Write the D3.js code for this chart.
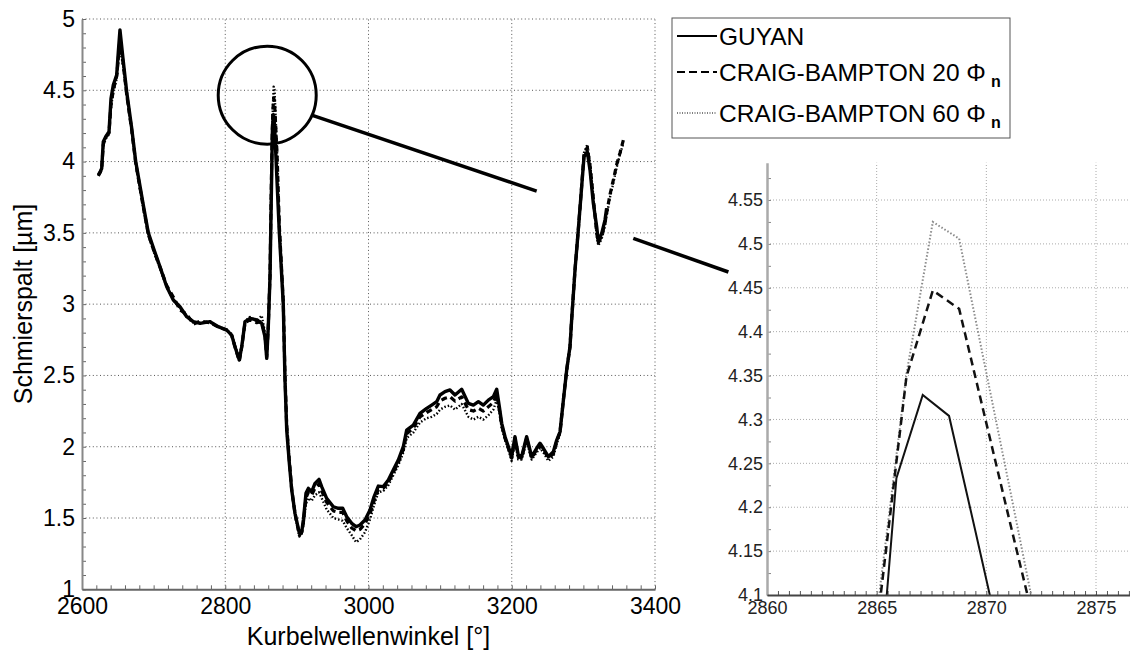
<!DOCTYPE html>
<html>
<head>
<meta charset="utf-8">
<script src="https://d3js.org/d3.v7.min.js"></script>
<style>
  body { margin: 0; background: #fff; }
</style>
</head>
<body>
<script>
// Kurbelwellenwinkel [°] / Schmierspalt [µm]
const angleGuyan = [2622.8, 2625.5, 2627.5, 2629.7, 2633.1, 2637.7, 2640.5, 2643.7, 2648.4, 2650.7, 2653.0, 2657.7, 2662.4, 2669.4, 2675.0, 2685.6, 2692.6, 2700.0, 2708.9, 2718.3, 2727.5, 2736.8, 2746.2, 2755.4, 2764.8, 2778.7, 2790.3, 2802.0, 2809.0, 2813.6, 2819.6, 2823.0, 2827.6, 2834.6, 2843.9, 2850.9, 2855.5, 2857.9, 2860.1, 2862.5,
  2864.7, 2865.9, 2867.1, 2868.3, 2869.5, 2870.7,
  2875.5, 2881.0, 2883.4, 2885.8, 2889.5, 2892.8, 2897.4, 2903.5, 2906.8, 2909.1, 2912.7, 2916.0, 2920.6, 2925.3, 2930.9, 2934.6, 2941.6, 2950.9, 2957.9, 2964.0, 2969.6, 2976.5, 2982.6, 2988.1, 2995.1, 3002.1, 3007.7, 3013.7, 3020.7, 3027.7, 3034.6, 3041.6, 3048.6, 3053.3, 3062.6, 3071.9, 3081.2, 3088.2, 3095.2, 3099.8, 3106.8, 3113.8, 3120.8, 3130.1, 3139.4, 3146.4, 3153.4, 3160.3, 3167.3, 3174.3, 3179.0, 3182.7, 3186.0, 3190.6, 3195.3, 3199.8, 3204.5, 3209.1, 3213.8, 3220.8, 3227.8, 3234.8, 3239.5, 3244.1, 3251.1, 3258.1, 3262.8, 3267.4, 3272.1, 3276.7, 3281.3, 3283.6, 3288.3, 3292.9, 3297.6, 3300.9, 3305.5, 3309.3, 3313.9, 3318.6, 3320.9, 3325.6, 3330.2, 3332.5];

const gapGuyan = [3.905, 3.930, 3.952, 4.139, 4.174, 4.209, 4.443, 4.537, 4.607, 4.770, 4.924, 4.700, 4.490, 4.233, 4.000, 3.695, 3.500, 3.390, 3.262, 3.122, 3.029, 2.982, 2.912, 2.877, 2.865, 2.877, 2.842, 2.818, 2.783, 2.701, 2.608, 2.701, 2.877, 2.900, 2.889, 2.865, 2.771, 2.620, 2.842, 3.192,
  3.870, 4.233, 4.328, 4.304, 4.173, 4.040,
  3.500, 3.000, 2.468, 2.117, 1.884, 1.696, 1.533, 1.393, 1.404, 1.486, 1.673, 1.708, 1.684, 1.743, 1.771, 1.720, 1.638, 1.579, 1.568, 1.568, 1.509, 1.463, 1.439, 1.451, 1.486, 1.556, 1.649, 1.724, 1.720, 1.766, 1.837, 1.907, 2.000, 2.117, 2.152, 2.234, 2.269, 2.292, 2.316, 2.363, 2.386, 2.398, 2.363, 2.403, 2.304, 2.292, 2.316, 2.292, 2.327, 2.351, 2.403, 2.280, 2.164, 2.070, 2.000, 1.930, 2.070, 1.942, 1.930, 2.070, 1.930, 1.989, 2.024, 1.989, 1.930, 1.965, 2.047, 2.105, 2.327, 2.538, 2.701, 2.888, 3.239, 3.520, 3.823, 4.034, 4.069, 3.940, 3.707, 3.543, 3.437, 3.496, 3.590, 3.672];

const angleCraig = [2622.8, 2625.5, 2627.5, 2629.7, 2633.1, 2637.7, 2640.5, 2643.7, 2648.4, 2650.7, 2653.0, 2657.7, 2662.4, 2669.4, 2675.0, 2685.6, 2692.6, 2700.0, 2708.9, 2718.3, 2727.5, 2736.8, 2746.2, 2755.4, 2764.8, 2778.7, 2790.3, 2802.0, 2809.0, 2813.6, 2819.6, 2823.0, 2827.6, 2834.6, 2843.9, 2850.9, 2855.5, 2857.9, 2860.1, 2862.5,
  2863.96, 2865.16, 2866.36, 2867.56, 2868.76, 2869.96, 2871.16, 2872.36,
  2875.5, 2881.0, 2883.4, 2885.8, 2889.5, 2892.8, 2897.4, 2903.5, 2906.8, 2909.1, 2912.7, 2916.0, 2920.6, 2925.3, 2930.9, 2934.6, 2941.6, 2950.9, 2957.9, 2964.0, 2969.6, 2976.5, 2982.6, 2988.1, 2995.1, 3002.1, 3007.7, 3013.7, 3020.7, 3027.7, 3034.6, 3041.6, 3048.6, 3053.3, 3062.6, 3071.9, 3081.2, 3088.2, 3095.2, 3099.8, 3106.8, 3113.8, 3120.8, 3130.1, 3139.4, 3146.4, 3153.4, 3160.3, 3167.3, 3174.3, 3179.0, 3182.7, 3186.0, 3190.6, 3195.3, 3199.8, 3204.5, 3209.1, 3213.8, 3220.8, 3227.8, 3234.8, 3239.5, 3244.1, 3251.1, 3258.1, 3262.8, 3267.4, 3272.1, 3276.7, 3281.3, 3283.6, 3288.3, 3292.9, 3297.6, 3300.9, 3305.5, 3309.3, 3313.9, 3318.6, 3320.9, 3325.6, 3330.2, 3332.5,
  3337.2, 3341.8, 3346.5, 3351.1, 3355.8];

const gapCraig20 = [3.900, 3.925, 3.950, 4.120, 4.170, 4.200, 4.400, 4.500, 4.600, 4.720, 4.860, 4.680, 4.470, 4.220, 3.990, 3.680, 3.490, 3.380, 3.260, 3.130, 3.050, 2.960, 2.930, 2.860, 2.880, 2.870, 2.840, 2.820, 2.780, 2.700, 2.600, 2.700, 2.870, 2.890, 2.870, 2.880, 2.780, 2.630, 2.850, 3.200,
  3.720, 4.095, 4.349, 4.447, 4.426, 4.300, 4.174, 4.050,
  3.550, 3.020, 2.500, 2.150, 1.900, 1.700, 1.530, 1.380, 1.400, 1.470, 1.640, 1.680, 1.660, 1.710, 1.740, 1.690, 1.610, 1.550, 1.540, 1.540, 1.480, 1.430, 1.410, 1.420, 1.460, 1.530, 1.620, 1.700, 1.710, 1.750, 1.820, 1.890, 1.980, 2.090, 2.130, 2.210, 2.240, 2.260, 2.280, 2.320, 2.340, 2.350, 2.320, 2.350, 2.260, 2.250, 2.270, 2.250, 2.280, 2.310, 2.370, 2.260, 2.150, 2.060, 1.990, 1.920, 2.060, 1.930, 1.920, 2.060, 1.920, 1.980, 2.010, 1.980, 1.920, 1.950, 2.040, 2.100, 2.330, 2.540, 2.700, 2.890, 3.240, 3.520, 3.830, 4.050, 4.100, 3.970, 3.740, 3.500, 3.430, 3.480, 3.570, 3.640,
  3.770, 3.870, 3.980, 4.060, 4.150];

const gapCraig60 = [3.900, 3.920, 3.950, 4.110, 4.160, 4.190, 4.380, 4.490, 4.580, 4.700, 4.800, 4.660, 4.460, 4.220, 3.980, 3.670, 3.480, 3.370, 3.250, 3.120, 3.030, 2.970, 2.920, 2.870, 2.870, 2.880, 2.840, 2.820, 2.790, 2.710, 2.620, 2.710, 2.880, 2.910, 2.880, 2.920, 2.800, 2.650, 2.860, 3.200,
  3.750, 4.110, 4.352, 4.525, 4.506, 4.358, 4.210, 4.060,
  3.570, 3.040, 2.520, 2.170, 1.910, 1.700, 1.520, 1.370, 1.390, 1.450, 1.600, 1.640, 1.620, 1.660, 1.680, 1.640, 1.560, 1.500, 1.490, 1.480, 1.430, 1.380, 1.330, 1.350, 1.400, 1.490, 1.590, 1.680, 1.690, 1.730, 1.800, 1.870, 1.960, 2.060, 2.100, 2.170, 2.200, 2.210, 2.230, 2.260, 2.280, 2.290, 2.260, 2.300, 2.210, 2.190, 2.210, 2.190, 2.220, 2.260, 2.330, 2.240, 2.130, 2.050, 1.980, 1.900, 2.040, 1.910, 1.910, 2.040, 1.910, 1.960, 1.990, 1.960, 1.900, 1.930, 2.020, 2.090, 2.320, 2.530, 2.700, 2.880, 3.230, 3.510, 3.820, 4.060, 4.120, 3.990, 3.760, 3.480, 3.410, 3.460, 3.550, 3.620,
  3.750, 3.850, 3.960, 4.050, 4.130];

const mainXTicks = [2600, 2800, 3000, 3200, 3400];
const mainYTicks = [1, 1.5, 2, 2.5, 3, 3.5, 4, 4.5, 5];
const insetXTicks = [2860, 2865, 2870, 2875];
const insetYTicks = [4.1, 4.15, 4.2, 4.25, 4.3, 4.35, 4.4, 4.45, 4.5, 4.55];

const legendNames = ["GUYAN", "CRAIG-BAMPTON 20 ", "CRAIG-BAMPTON 60 "];

const FONT = "'Liberation Sans', Arial, Helvetica, sans-serif";

const series = [
  { name: legendNames[0], angle: angleGuyan, gap: gapGuyan, dash: null, width: 3.4, insetColor: "#111", insetWidth: 2, insetDash: null, sub: false },
  { name: legendNames[1], angle: angleCraig, gap: gapCraig20, dash: "6,4", width: 3.2, insetColor: "#111", insetWidth: 2.5, insetDash: "8,5", sub: true },
  { name: legendNames[2], angle: angleCraig, gap: gapCraig60, dash: "1.5,2", width: 2.4, insetColor: "#8a8a8a", insetWidth: 2, insetDash: "1.5,2", sub: true }
];

const svg = d3.select("body").append("svg")
  .attr("width", 1130).attr("height", 650)
  .style("background", "#fff")
  .attr("font-family", FONT);

// --- main plot ---
const x = d3.scaleLinear().domain([2600, 3400]).range([82, 655]);
const y = d3.scaleLinear().domain([1, 5]).range([589.3, 19]);

const grid = svg.append("g");
grid.selectAll("line.h").data(mainYTicks.slice(1)).join("line")
  .attr("x1", x(2600)).attr("x2", x(3400))
  .attr("y1", d => y(d)).attr("y2", d => y(d))
  .attr("stroke", "#555").attr("stroke-width", 1).attr("stroke-dasharray", "1,2.6");
grid.selectAll("line.v").data(mainXTicks.slice(1)).join("line")
  .attr("x1", d => x(d)).attr("x2", d => x(d))
  .attr("y1", y(1)).attr("y2", y(5))
  .attr("stroke", "#555").attr("stroke-width", 1).attr("stroke-dasharray", "1,2.6");

// minor ticks, pointing inwards
const minorY = svg.append("g").attr("transform", `translate(${x(2600)},0)`)
  .call(d3.axisLeft(y).tickValues(d3.range(10, 51).map(d => d / 10)).tickSizeInner(-4).tickSizeOuter(0).tickFormat(""));
minorY.select(".domain").remove();
minorY.selectAll("line").attr("stroke", "#666");
const minorX = svg.append("g").attr("transform", `translate(0,${y(1)})`)
  .call(d3.axisBottom(x).tickValues(d3.range(2600, 3401, 20)).tickSizeInner(-4).tickSizeOuter(0).tickFormat(""));
minorX.select(".domain").remove();
minorX.selectAll("line").attr("stroke", "#666");

const gy = svg.append("g").attr("transform", `translate(${x(2600)},0)`)
  .call(d3.axisLeft(y).tickValues(mainYTicks).tickFormat(d3.format("~g")).tickSize(0).tickPadding(7));
gy.attr("font-size", 23).attr("font-family", FONT);
gy.select(".domain").attr("stroke", "#888").attr("stroke-width", 2);
gy.selectAll("text").attr("fill", "#000");

const gx = svg.append("g").attr("transform", `translate(0,${y(1)})`)
  .call(d3.axisBottom(x).tickValues(mainXTicks).tickFormat(d3.format("d")).tickSize(0).tickPadding(8));
gx.attr("font-size", 23).attr("font-family", FONT);
gx.select(".domain").attr("stroke", "#666").attr("stroke-width", 2);
gx.selectAll("text").attr("fill", "#000");

svg.append("text")
  .attr("x", (x(2600) + x(3400)) / 2).attr("y", 645)
  .attr("text-anchor", "middle").attr("font-size", 25)
  .text("Kurbelwellenwinkel [°]");
svg.append("text")
  .attr("transform", "translate(32,304) rotate(-90)")
  .attr("text-anchor", "middle").attr("font-size", 25)
  .text("Schmierspalt [µm]");

const line = d3.line().x(d => x(d[0])).y(d => y(d[1]));
const drawOrder = [2, 1, 0];
drawOrder.forEach(i => {
  const s = series[i];
  svg.append("path")
    .datum(d3.zip(s.angle, s.gap))
    .attr("d", line)
    .attr("fill", "none")
    .attr("stroke", "#000")
    .attr("stroke-width", s.width)
    .attr("stroke-linejoin", "round")
    .attr("stroke-dasharray", s.dash);
});

// --- callout ---
svg.append("circle")
  .attr("cx", x(2858.6)).attr("cy", y(4.466)).attr("r", 49)
  .attr("fill", "none").attr("stroke", "#000").attr("stroke-width", 3);

// --- inset (zoom on the peak) ---
const xi = d3.scaleLinear().domain([2860, 2876.55]).range([767, 1130]);
const yi = d3.scaleLinear().domain([4.1, 4.5925]).range([595, 162.7]);

svg.append("line")
  .attr("x1", x(2920.7)).attr("y1", y(4.326))
  .attr("x2", x(3234.8)).attr("y2", y(3.793))
  .attr("stroke", "#000").attr("stroke-width", 3.5);
svg.append("line")
  .attr("x1", x(3369.7)).attr("y1", y(3.461))
  .attr("x2", xi(2858.24)).attr("y2", yi(4.468))
  .attr("stroke", "#000").attr("stroke-width", 3.5);

const inset = svg.append("g");
inset.append("defs").append("clipPath").attr("id", "insetClip")
  .append("rect")
  .attr("x", xi(2860)).attr("y", yi(4.5925))
  .attr("width", xi(2876.55) - xi(2860)).attr("height", yi(4.1) - yi(4.5925));

inset.selectAll("line.ih").data(insetYTicks.slice(1)).join("line")
  .attr("x1", xi(2860)).attr("x2", xi(2876.55))
  .attr("y1", d => yi(d)).attr("y2", d => yi(d))
  .attr("stroke", "#aaa").attr("stroke-width", 1).attr("stroke-dasharray", "1,2");
inset.selectAll("line.iv").data(insetXTicks.slice(1)).join("line")
  .attr("x1", d => xi(d)).attr("x2", d => xi(d))
  .attr("y1", yi(4.1)).attr("y2", yi(4.5925))
  .attr("stroke", "#aaa").attr("stroke-width", 1).attr("stroke-dasharray", "1,2");

const iMinorY = inset.append("g").attr("transform", `translate(${xi(2860)},0)`)
  .call(d3.axisLeft(yi).tickValues(d3.range(164, 184).map(d => d / 40)).tickSizeInner(-4).tickSizeOuter(0).tickFormat(""));
iMinorY.select(".domain").remove();
iMinorY.selectAll("line").attr("stroke", "#888");
const iMinorX = inset.append("g").attr("transform", `translate(0,${yi(4.1)})`)
  .call(d3.axisBottom(xi).tickValues(d3.range(0, 34).map(d => 2860 + d / 2)).tickSizeInner(-4).tickSizeOuter(0).tickFormat(""));
iMinorX.select(".domain").remove();
iMinorX.selectAll("line").attr("stroke", "#555");

const lineInset = d3.line().x(d => xi(d[0])).y(d => yi(d[1]));
const insetLines = inset.append("g").attr("clip-path", "url(#insetClip)");
drawOrder.forEach(i => {
  const s = series[i];
  insetLines.append("path")
    .datum(d3.zip(s.angle, s.gap))
    .attr("d", lineInset)
    .attr("fill", "none")
    .attr("stroke", s.insetColor)
    .attr("stroke-width", s.insetWidth)
    .attr("stroke-dasharray", s.insetDash);
});

const giy = inset.append("g").attr("transform", `translate(${xi(2860)},0)`)
  .call(d3.axisLeft(yi).tickValues(insetYTicks).tickFormat(d3.format("~g")).tickSize(0).tickPadding(4));
giy.attr("font-size", 18).attr("font-family", FONT);
giy.select(".domain").attr("stroke", "#aaa").attr("stroke-width", 2.5);
giy.selectAll("text").attr("fill", "#222");

const gix = inset.append("g").attr("transform", `translate(0,${yi(4.1)})`)
  .call(d3.axisBottom(xi).tickValues(insetXTicks).tickFormat(d3.format("d")).tickSize(0).tickPadding(6));
gix.attr("font-size", 18).attr("font-family", FONT);
gix.select(".domain").attr("stroke", "#444").attr("stroke-width", 2);
gix.selectAll("text").attr("fill", "#222");

// --- legend ---
const legend = svg.append("g").attr("transform", "translate(672,18)");
legend.append("rect")
  .attr("width", 338).attr("height", 120)
  .attr("fill", "#fff").attr("stroke", "#555").attr("stroke-width", 1);
const rowY = [18, 54, 95];
series.forEach((s, i) => {
  const row = legend.append("g").attr("transform", `translate(0,${rowY[i]})`);
  row.append("line")
    .attr("x1", 5).attr("x2", 45)
    .attr("stroke", "#000")
    .attr("stroke-width", i === 2 ? 1.2 : 2)
    .attr("stroke-dasharray", i === 1 ? "8,4" : i === 2 ? "1,1.5" : null);
  const t = row.append("text")
    .attr("x", 47).attr("y", 9)
    .attr("font-size", 24.5)
    .text(s.name);
  if (s.sub) {
    t.append("tspan").text("Φ");
    t.append("tspan").attr("dx", 5).attr("dy", 6).attr("font-size", 16).attr("font-weight", "bold").text("n");
  }
});
</script>
</body>
</html>
